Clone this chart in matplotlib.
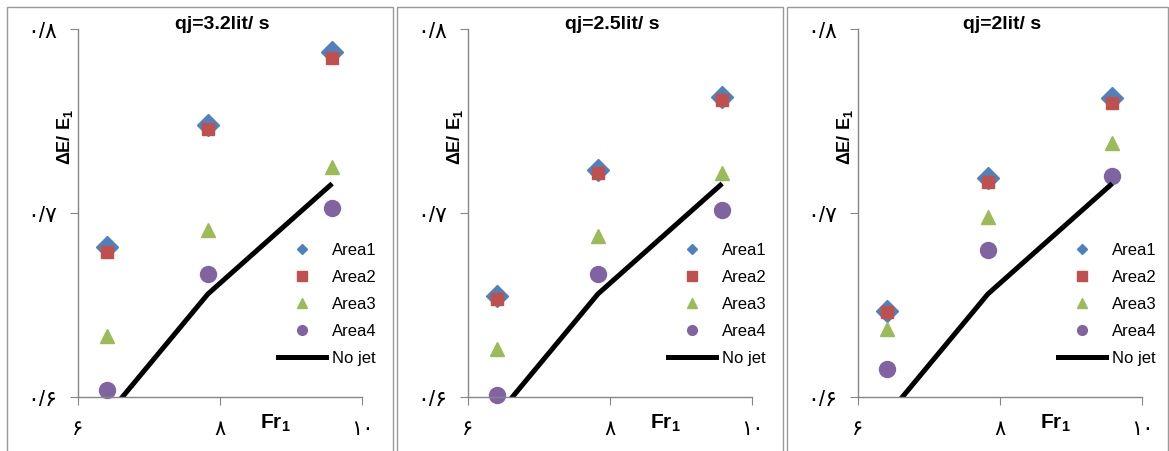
import matplotlib
matplotlib.use("Agg")
import matplotlib.pyplot as plt
from matplotlib.lines import Line2D
from matplotlib.patches import Rectangle

plt.rcParams['font.family'] = ['Liberation Sans', 'DejaVu Sans']
plt.rcParams['mathtext.fontset'] = 'custom'
plt.rcParams['mathtext.rm'] = 'Liberation Sans'
plt.rcParams['mathtext.bf'] = 'Liberation Sans:bold'

# Froude numbers of the three runs
fr = [6.41, 7.83, 9.58]

titles = ["qj=3.2lit/ s", "qj=2.5lit/ s", "qj=2lit/ s"]

# relative energy loss per measuring area, one list per jet discharge
area1 = [[0.6815, 0.748, 0.7875], [0.655, 0.7234, 0.763], [0.647, 0.719, 0.7625]]
area2 = [[0.679, 0.7457, 0.784], [0.653, 0.722, 0.7614], [0.646, 0.717, 0.760]]
area3 = [[0.633, 0.691, 0.725], [0.626, 0.6875, 0.7217], [0.637, 0.698, 0.738]]
area4 = [[0.604, 0.667, 0.7025], [0.601, 0.667, 0.7016], [0.615, 0.680, 0.720]]
no_jet = [0.590, 0.656, 0.716]

xticks = [6, 8, 10]
xtick_labels = ["۶", "۸", "۱۰"]
yticks = [0.6, 0.7, 0.8]
ytick_labels = ["۰/۶", "۰/۷", "۰/۸"]

c1, c2, c3, c4 = "#4F81BD", "#C0504D", "#9BBB59", "#8064A2"
spine = "#868686"

W, H = 1169, 452
fig = plt.figure(figsize=(W / 100, H / 100), dpi=100)

# panel frames
frames = [(7, 393), (397, 783), (787, 1168)]
for x0, x1 in frames:
    fig.patches.append(Rectangle((x0 / W, -0.1), (x1 - x0) / W, 1.1 - 8 / H,
                                 transform=fig.transFigure, fill=False,
                                 edgecolor="#9a9a9a", lw=1.0))

lefts = [78, 468, 858]
for i, left in enumerate(lefts):
    ax = fig.add_axes([left / W, (H - 398) / H, 284 / W, 368 / H])
    ax.plot(fr, area1[i], "D", color=c1, ms=11, clip_on=False)
    ax.plot(fr, area2[i], "s", color=c2, ms=8.5, clip_on=False)
    ax.plot(fr, area3[i], "^", color=c3, ms=10.5, clip_on=False)
    ax.plot(fr, area4[i], "o", color=c4, ms=11.5, clip_on=False)
    ax.plot(fr, no_jet, "-", color="black", lw=3.6, solid_capstyle="butt")

    ax.set_xlim(6, 10)
    ax.set_ylim(0.6, 0.8)
    ax.set_xticks(xticks)
    ax.set_xticklabels(xtick_labels, fontsize=15)
    ax.set_yticks(yticks)
    ax.set_yticklabels(ytick_labels, fontsize=16)
    ax.tick_params(axis="x", length=6, color=spine, pad=10)
    ax.tick_params(axis="y", length=6, color=spine, pad=9)
    for s in ["top", "right"]:
        ax.spines[s].set_visible(False)
    for s in ["left", "bottom"]:
        ax.spines[s].set_color(spine)
        ax.spines[s].set_linewidth(1.0)

    ax.text(0.507, 1.014, titles[i], transform=ax.transAxes, ha="center",
            va="center", fontsize=14, fontweight="bold")
    ax.text(0.694, -0.068, r"$\mathbf{Fr}_{\mathbf{1}}$", transform=ax.transAxes,
            ha="center", va="center", fontsize=15)
    ax.text(-0.046, 0.709, r"$\mathbf{\Delta E/\ E_1}$", transform=ax.transAxes,
            ha="center", va="center", rotation=90, fontsize=13)

    handles = [
        Line2D([], [], ls="none", marker="D", color=c1, ms=5),
        Line2D([], [], ls="none", marker="s", color=c2, ms=6.5),
        Line2D([], [], ls="none", marker="^", color=c3, ms=7),
        Line2D([], [], ls="none", marker="o", color=c4, ms=7),
        Line2D([], [], color="black", lw=3.6),
    ]
    ax.legend(handles, ["Area1", "Area2", "Area3", "Area4", "No jet"],
              loc="upper left", bbox_to_anchor=(0.704, 0.42), frameon=False,
              fontsize=12, handlelength=2.9, handletextpad=0.36,
              labelspacing=0.72, borderpad=0, borderaxespad=0)

fig.savefig("out.png", dpi=100)
